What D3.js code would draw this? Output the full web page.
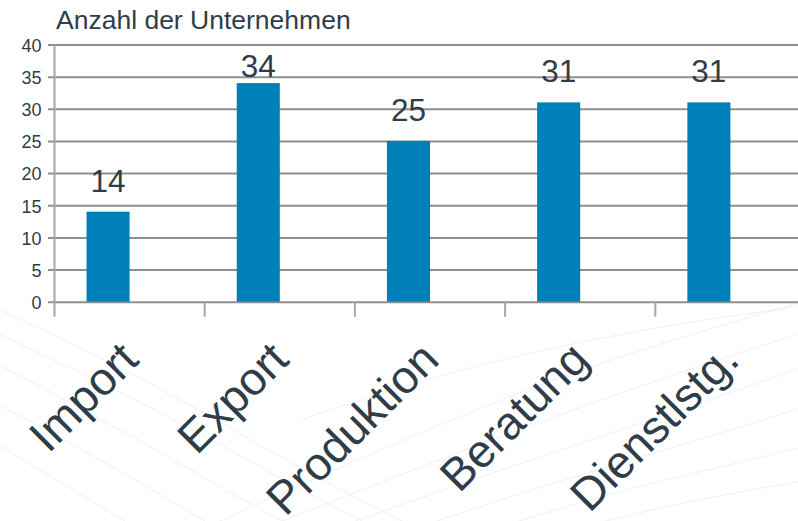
<!DOCTYPE html>
<html>
<head>
<meta charset="utf-8">
<script src="https://cdn.jsdelivr.net/npm/d3@7"></script>
<style>
  html, body { margin: 0; padding: 0; background: #ffffff; }
  svg { display: block; font-family: "Liberation Sans", Arial, sans-serif; }
</style>
</head>
<body>
<svg id="chart" width="798" height="521"></svg>
<script>
// ---- data ----
const categories = ["Import", "Export", "Produktion", "Beratung", "Dienstlstg."];
const seriesNames = ["Anzahl der Unternehmen", "leer"];
const values = [14, 34, 25, 31, 31];
const yTicks = [0, 5, 10, 15, 20, 25, 30, 35, 40];
const yTitle = "Anzahl der Unternehmen";

// ---- layout ----
const svg = d3.select("#chart");
const W = 798, H = 521;
const plotLeft = 54.5, plotRight = 805.5, plotTop = 44.5, plotBottom = 301.7;
const textColor = "#2e3d48";
const gridColor = "#8f8f8f";
const barColor = "#0080b8";

// faint background decoration (curves)
const deco = svg.append("g").attr("fill", "none").attr("stroke", "#edf1f4").attr("stroke-width", 1);
const arcGen = d3.line().curve(d3.curveBasis);
const decoCurves = [
  [[-10, 305], [150, 380], [300, 470], [420, 530]],
  [[-10, 330], [160, 410], [300, 490], [380, 530]],
  [[-10, 360], [140, 440], [260, 510], [300, 530]],
  [[-10, 400], [120, 470], [220, 530]],
  [[-10, 440], [90, 500], [140, 530]],
  [[200, 530], [400, 440], [600, 360], [810, 300]],
  [[260, 530], [450, 455], [640, 385], [810, 330]],
  [[330, 530], [500, 470], [680, 410], [810, 365]],
  [[410, 530], [560, 480], [700, 440], [810, 405]],
  [[490, 530], [620, 490], [730, 465], [810, 445]],
  [[570, 530], [690, 500], [810, 480]],
  [[300, 420], [420, 380], [560, 345], [700, 320], [810, 305]]
];
decoCurves.forEach(c => deco.append("path").attr("d", arcGen(c)));

// ---- scales ----
const x = d3.scaleBand().domain(categories).range([plotLeft, plotRight]).paddingInner(0).paddingOuter(0);
const xSub = d3.scaleBand().domain(seriesNames).range([0, x.bandwidth()]).paddingInner(0).paddingOuter(0.744);
const y = d3.scaleLinear().domain([0, 40]).range([plotBottom, plotTop]);

// ---- gridlines + y axis ----
const yAxis = d3.axisLeft(y).tickValues(yTicks).tickSize(-(W - plotLeft + 10)).tickSizeOuter(0).tickPadding(13);
const gy = svg.append("g").attr("transform", `translate(${plotLeft},0)`).call(yAxis);
gy.select(".domain").remove();
gy.selectAll(".tick line")
  .attr("x1", -6.5)
  .attr("stroke", gridColor).attr("stroke-width", 2);
gy.selectAll(".tick text")
  .attr("fill", textColor).attr("font-size", 18).attr("dy", "0.38em")
  .attr("font-family", "Liberation Sans, Arial, sans-serif");

// ---- x axis ----
const xTickPos = categories.map(c => x(c)).concat([plotRight]);
const gx = svg.append("g");
gx.append("line")
  .attr("x1", plotLeft).attr("x2", plotLeft).attr("y1", plotTop).attr("y2", plotBottom + 15)
  .attr("stroke", "#a6a6a6").attr("stroke-width", 2);
gx.selectAll("line.xt").data(xTickPos.slice(1)).join("line").attr("class", "xt")
  .attr("x1", d => d).attr("x2", d => d).attr("y1", plotBottom).attr("y2", plotBottom + 15)
  .attr("stroke", "#a6a6a6").attr("stroke-width", 2);

// ---- bars ----
svg.append("g").selectAll("rect").data(values).join("rect")
  .attr("x", (d, i) => x(categories[i]) + xSub(seriesNames[0]))
  .attr("width", xSub.bandwidth())
  .attr("y", d => y(d))
  .attr("height", d => y(0) - y(d))
  .attr("fill", barColor);

// ---- value labels (kept inside the chart area at the top) ----
svg.append("g").selectAll("text").data(values).join("text")
  .attr("x", (d, i) => x(categories[i]) + xSub(seriesNames[0]) + xSub.bandwidth() / 2)
  .attr("y", d => Math.max(y(d) - 20, 77.3))
  .attr("text-anchor", "middle")
  .attr("font-size", 31.5)
  .attr("fill", textColor)
  .text(d => d);

// ---- category labels (rotated) ----
svg.append("g").selectAll("text").data(categories).join("text")
  .attr("transform", d => `translate(${x(d) + x.bandwidth() / 2 + 11},362) rotate(-45)`)
  .attr("text-anchor", "end")
  .attr("font-size", 46)
  .attr("fill", textColor)
  .text(d => d);

// ---- axis title ----
svg.append("text")
  .attr("x", 56).attr("y", 29)
  .attr("font-size", 26.5)
  .attr("fill", textColor)
  .text(yTitle);
</script>
</body>
</html>
